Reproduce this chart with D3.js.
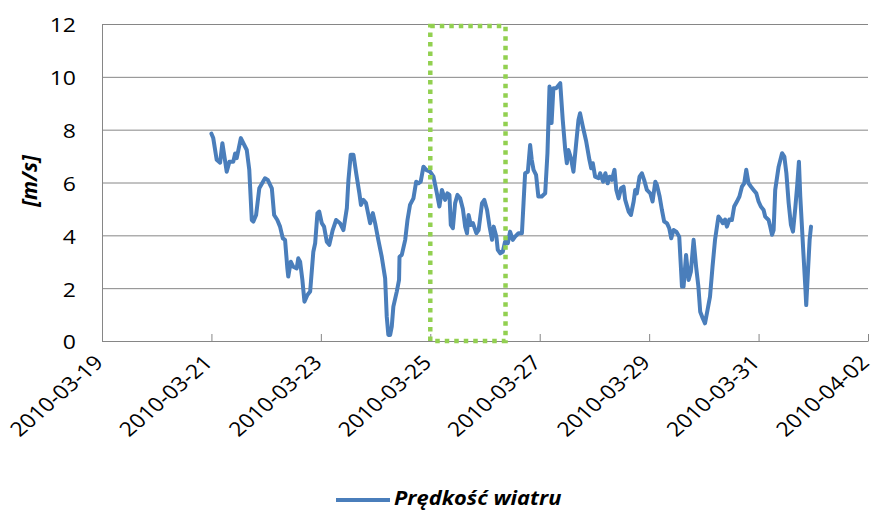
<!DOCTYPE html>
<html>
<head>
<meta charset="utf-8">
<script src="https://cdn.jsdelivr.net/npm/d3@7"></script>
<style>
  body { margin: 0; background: #fff; }
  text { font-family: "Open Sans", "Liberation Sans", sans-serif; fill: #000; }
</style>
</head>
<body>
<svg id="chart" width="876" height="511"></svg>
<script>
// series: hours after 2010-03-21 00:00 and wind speed [m/s]
const seriesStart = "2010-03-21T00:00";
const hours = [0,0.8,2.3,3.8,4.8,5.5,6.7,7.9,9.6,10.4,
  11.1,12.9,15.5,16.6,17.7,18.4,19.6,21.0,23.5,24.7,
  26.5,27.5,28.9,30.1,31.3,32.3,33.3,33.7,34.8,35.9,
  37.4,38.1,38.9,39.9,40.8,42.1,43.3,44.7,45.5,46.5,
  47.3,48.4,49.4,50.6,51.7,53.2,54.7,56.4,57.9,59.4,
  60.1,61.1,62.3,63.5,64.9,65.6,66.7,67.8,69.6,70.8,
  71.8,73.2,74.7,76.2,76.9,77.6,78.4,79.1,79.8,81.3,
  82.3,82.5,83.5,85.0,86.0,87.1,88.6,89.8,90.8,91.8,
  93.0,94.2,95.9,97.4,98.9,100.0,101.1,102.5,103.5,104.4,
  105.0,105.9,106.9,107.9,109.1,110.3,111.3,112.1,112.8,113.8,
  114.7,116.2,117.2,118.7,119.7,120.9,122.0,123.1,123.8,125.0,
  125.6,126.7,127.8,128.8,130.0,131.0,132.2,133.2,134.7,136.2,
  136.9,137.6,138.8,139.8,140.5,141.3,142.4,143.4,144.9,146.4,
  147.4,148.3,149.2,150.0,151.2,153.0,154.1,155.2,155.9,156.6,
  157.7,158.8,160.0,161.0,161.7,162.9,164.4,165.8,166.6,167.3,
  168.3,169.8,170.5,171.8,172.8,173.8,174.7,175.7,176.8,177.6,
  178.6,179.7,180.8,181.5,183.0,184.0,185.2,185.9,186.6,187.8,
  188.8,189.8,191.0,192.5,193.5,194.7,195.4,196.6,197.6,198.6,
  199.8,200.8,201.7,202.7,203.9,205.2,206.4,207.1,208.2,209.3,
  210.3,211.5,212.6,213.6,214.4,215.5,216.5,217.6,218.7,219.8,
  220.9,222.4,223.4,224.3,225.3,226.1,227.2,228.3,229.3,230.5,
  231.6,232.7,233.7,234.6,235.6,236.7,237.8,239.0,240.0,241.0,
  242.2,242.9,244.4,245.1,245.9,246.6,247.3,248.8,250.3,251.3,
  252.2,253.2,254.2,255.1,256.1,256.9,257.7,258.3,259.5,260.5,
  260.9,261.7,262.4,263.0];
const speed = [7.85,7.68,6.86,6.75,7.49,7.1,6.41,6.79,6.79,7.1,
  6.92,7.68,7.23,6.48,4.58,4.52,4.77,5.78,6.16,6.1,
  5.78,4.77,4.58,4.33,3.89,3.83,2.75,2.44,3.0,2.81,
  2.75,3.13,3.0,2.31,1.49,1.74,1.87,3.38,3.7,4.84,
  4.9,4.46,4.33,3.76,3.64,4.2,4.58,4.46,4.2,5.03,
  6.1,7.05,7.05,6.35,5.59,5.15,5.34,5.22,4.46,4.84,
  4.46,3.83,3.19,2.37,0.92,0.23,0.23,0.54,1.3,1.87,
  2.31,3.19,3.26,3.83,4.58,5.15,5.4,6.03,5.97,6.03,
  6.6,6.48,6.41,6.22,5.59,5.09,5.72,5.34,5.59,5.53,
  4.39,4.27,5.22,5.53,5.4,5.0,4.33,4.08,4.77,4.39,
  4.46,4.08,4.2,5.22,5.34,4.96,4.33,3.83,4.33,3.95,
  3.45,3.32,3.38,3.76,3.7,4.14,3.83,3.95,4.08,4.08,
  5.22,6.35,6.41,7.42,6.86,6.48,6.29,5.47,5.47,5.59,
  7.11,9.63,8.25,9.57,9.57,9.76,8.37,7.23,6.73,7.23,
  6.92,6.41,7.49,8.37,8.62,8.12,7.55,6.86,6.54,6.73,
  6.22,6.16,6.35,6.03,6.35,5.97,6.22,6.1,6.48,5.72,
  5.4,5.78,5.84,5.34,4.9,4.77,5.28,5.72,5.59,6.22,
  6.35,6.1,5.72,5.59,5.28,6.03,5.91,5.47,4.96,4.52,
  4.46,4.27,3.89,4.2,4.14,3.95,2.06,2.06,3.26,2.31,
  2.62,3.83,2.81,2.06,1.11,0.86,0.67,1.17,1.68,2.81,
  3.83,4.71,4.6,4.46,4.6,4.33,4.6,4.58,5.09,5.28,
  5.47,5.84,5.97,6.48,5.97,5.84,5.72,5.59,5.28,5.09,
  4.96,4.71,4.58,4.33,4.02,4.2,5.72,6.6,7.11,6.98,
  6.35,5.22,4.39,4.14,5.03,5.84,6.79,5.47,3.57,2.06,
  1.36,2.69,3.83,4.33];

const xTickLabels = ["2010-03-19","2010-03-21","2010-03-23","2010-03-25",
                     "2010-03-27","2010-03-29","2010-03-31","2010-04-02"];
const yTicks = [0, 2, 4, 6, 8, 10, 12];
const seriesName = "Prędkość wiatru";
const yTitle = "[m/s]";
// highlighted window (dotted box)
const boxFrom = "2010-03-25T00:00";
const boxTo = "2010-03-26T09:00";

const parseDay = d3.utcParse("%Y-%m-%d");
const parseTime = d3.utcParse("%Y-%m-%dT%H:%M");
const t0 = parseTime(seriesStart);
const data = hours.map((h, i) => ({ t: new Date(t0.getTime() + h * 3600e3), v: speed[i] }));
const tickDates = xTickLabels.map(parseDay);

const sx = 1.15; // horizontal stretch of the original's text

const svg = d3.select("#chart");

const x = d3.scaleUtc()
            .domain([tickDates[0], tickDates[tickDates.length - 1]])
            .range([102, 868]);
const y = d3.scaleLinear()
            .domain([0, 12])
            .range([341, 24]);

// gridlines + left axis
const yAxis = svg.append("g")
   .attr("transform", "translate(102,0)")
   .call(d3.axisLeft(y).tickValues(yTicks).tickSize(-766).tickSizeOuter(0).tickPadding(0));
yAxis.select(".domain").attr("stroke", "#868686");
yAxis.selectAll(".tick line").attr("stroke", "#868686");
yAxis.selectAll(".tick text")
   .attr("x", null).attr("dy", null)
   .attr("font-size", 20)
   .attr("dominant-baseline", "central")
   .attr("transform", `translate(-26,0) scale(${sx},1)`);

// bottom axis
const xAxis = svg.append("g")
   .attr("transform", "translate(0,341)")
   .call(d3.axisBottom(x).tickValues(tickDates).tickSize(-7).tickSizeOuter(0)
            .tickFormat(d3.utcFormat("%Y-%m-%d")));
xAxis.select(".domain").attr("stroke", "#868686");
xAxis.selectAll(".tick line").attr("stroke", "#868686");
xAxis.selectAll(".tick text")
   .attr("y", null).attr("dy", null)
   .attr("font-size", 20)
   .attr("text-anchor", "end")
   .attr("transform", `translate(2,23) scale(${sx},1) rotate(-45)`);

// the series
const line = d3.line()
               .x(d => x(d.t))
               .y(d => y(d.v));
svg.append("path")
   .datum(data)
   .attr("d", line)
   .attr("fill", "none")
   .attr("stroke", "#4a7ebb")
   .attr("stroke-width", 4)
   .attr("stroke-linejoin", "round")
   .attr("stroke-linecap", "round");

// dotted highlight box
const bx0 = x(parseTime(boxFrom)), bx1 = x(parseTime(boxTo));
svg.append("rect")
   .attr("x", bx0).attr("y", y(12) + 2)
   .attr("width", bx1 - bx0).attr("height", y(0) - y(12) - 2)
   .attr("fill", "none")
   .attr("stroke", "#92d050")
   .attr("stroke-width", 4.5)
   .attr("stroke-dasharray", "4.5,5");

// y title
svg.append("text")
   .attr("transform", `translate(37,181) rotate(-90)`)
   .attr("text-anchor", "middle")
   .attr("font-size", 21)
   .attr("font-weight", "bold")
   .attr("font-style", "italic")
   .text(yTitle);

// legend
svg.append("line")
   .attr("x1", 336).attr("x2", 390)
   .attr("y1", 500).attr("y2", 500)
   .attr("stroke", "#4a7ebb")
   .attr("stroke-width", 4);
svg.append("text")
   .attr("transform", `translate(394,505) scale(${sx},1)`)
   .attr("font-size", 19)
   .attr("font-weight", "bold")
   .attr("font-style", "italic")
   .text(seriesName);
</script>
</body>
</html>
